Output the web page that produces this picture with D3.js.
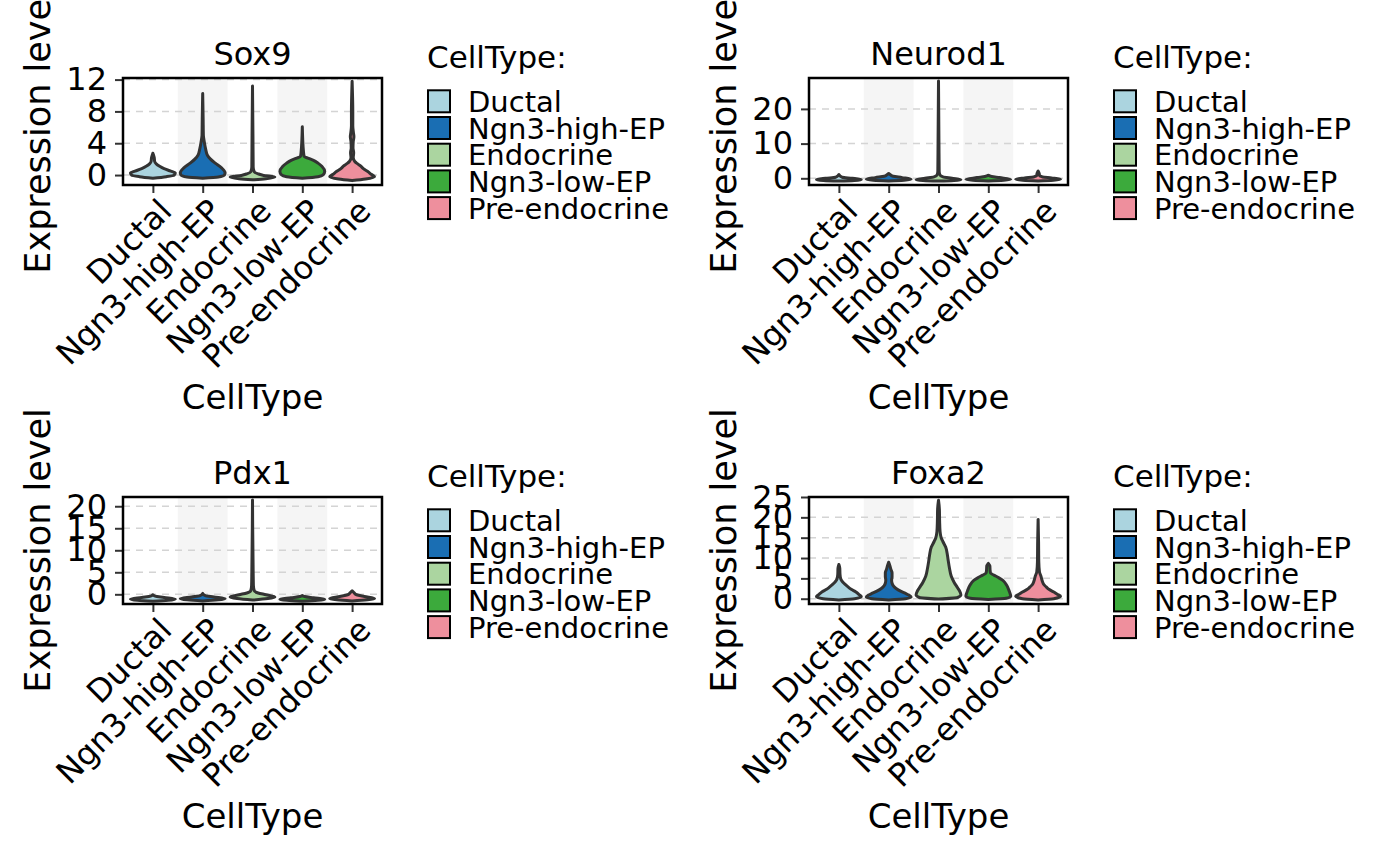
<!DOCTYPE html>
<html>
<head>
<meta charset="utf-8">
<script src="https://cdn.jsdelivr.net/npm/d3@7"></script>
<style>
  body { margin: 0; background: #fff; }
  svg { display: block; font-family: "DejaVu Sans", sans-serif; }
</style>
</head>
<body>
<svg id="chart" width="1400" height="866"></svg>
<script>
const genes = ['Sox9', 'Neurod1', 'Pdx1', 'Foxa2'];
const cellTypes = ['Ductal', 'Ngn3-high-EP', 'Endocrine', 'Ngn3-low-EP', 'Pre-endocrine'];
const cellColors = ['#abd4df', '#1a6eb3', '#abd5a0', '#3caa3c', '#ee8f9d'];

const yDomains = [[-1.25, 12.2], [-1.93, 28.9], [-2.2, 22.1], [-1.3, 25.0]];
const yTicks = [[0, 4, 8, 12], [0, 10, 20], [0, 5, 10, 15, 20], [0, 5, 10, 15, 20, 25]];

// violin outlines: [expression level, relative half width]
const sox9Violins = [
    [[-0.4, 0], [-0.2, 0.6], [0, 0.95], [0.25, 1.0], [0.5, 0.8], [0.8, 0.5], [1.1, 0.3], [1.4, 0.15], [1.7, 0.08], [2.2, 0.06], [2.75, 0]],
    [[-0.4, 0], [-0.25, 0.7], [0, 0.97], [0.3, 1.0], [0.9, 0.84], [1.5, 0.56], [2.0, 0.35], [2.5, 0.21], [3.3, 0.13], [4.2, 0.07], [5, 0.03], [7, 0.02], [10.25, 0]],
    [[-0.6, 0], [-0.45, 0.6], [-0.25, 1.0], [-0.05, 0.5], [0.15, 0.25], [0.4, 0.08], [1, 0.03], [5, 0.02], [11.2, 0]],
    [[-0.4, 0], [-0.2, 0.7], [0, 0.92], [0.45, 1.0], [1.1, 0.87], [1.5, 0.7], [1.85, 0.5], [2.1, 0.28], [2.35, 0.08], [3, 0.05], [6.08, 0]],
    [[-0.7, 0], [-0.5, 0.6], [-0.2, 1.0], [0.1, 0.85], [0.45, 0.7], [0.8, 0.5], [1.1, 0.4], [1.4, 0.25], [1.7, 0.12], [2.2, 0.05], [2.8, 0.07], [3.4, 0.04], [4.2, 0.05], [4.8, 0.08], [5.3, 0.06], [6.2, 0.03], [8, 0.03], [11.8, 0]]
];
const neurod1Violins = [
    [[-0.8, 0], [-0.4, 1.0], [0, 0.6], [0.3, 0.15], [0.7, 0.05], [1.1, 0]],
    [[-0.8, 0], [-0.3, 1.0], [0.2, 0.6], [0.6, 0.2], [1.0, 0.08], [1.4, 0]],
    [[-0.8, 0], [-0.4, 1.0], [0, 0.6], [0.4, 0.2], [1.0, 0.06], [2, 0.03], [10, 0.02], [28, 0]],
    [[-0.8, 0], [-0.3, 1.0], [0.2, 0.5], [0.5, 0.15], [0.9, 0]],
    [[-0.8, 0], [-0.3, 1.0], [0.1, 0.6], [0.4, 0.2], [0.8, 0.06], [1.4, 0.05], [2.1, 0]]
];
const pdx1Violins = [
    [[-1.6, 0], [-1.1, 1.0], [-0.7, 0.5], [-0.4, 0.1], [-0.1, 0]],
    [[-1.5, 0], [-1.0, 1.0], [-0.6, 0.5], [-0.3, 0.12], [0.2, 0]],
    [[-1.3, 0], [-0.6, 1.0], [-0.1, 0.6], [0.3, 0.25], [0.8, 0.08], [2, 0.04], [5, 0.03], [21.4, 0]],
    [[-1.6, 0], [-1.15, 1.0], [-0.8, 0.5], [-0.5, 0.1], [-0.3, 0]],
    [[-1.5, 0], [-0.95, 1.0], [-0.5, 0.55], [-0.1, 0.2], [0.4, 0.08], [0.8, 0]]
];
const foxa2Violins = [
    [[-0.3, 0], [0, 0.7], [0.5, 1.0], [1, 0.9], [1.65, 0.76], [2.3, 0.55], [2.9, 0.41], [3.5, 0.28], [4.1, 0.17], [4.9, 0.08], [6, 0.05], [7.5, 0.04], [8.4, 0]],
    [[-0.3, 0], [0, 0.75], [0.4, 1.0], [0.9, 0.9], [1.25, 0.77], [1.8, 0.55], [2.5, 0.33], [3.2, 0.2], [3.8, 0.15], [4.6, 0.13], [5.4, 0.15], [6.4, 0.15], [7.2, 0.1], [8, 0.06], [8.96, 0]],
    [[-0.1, 0], [0.3, 0.85], [0.9, 1.0], [1.8, 0.95], [2.7, 0.85], [4, 0.7], [5.5, 0.57], [7.5, 0.49], [9.5, 0.43], [11, 0.39], [12.7, 0.32], [14, 0.2], [15, 0.12], [16.5, 0.07], [19, 0.05], [22, 0.04], [24.2, 0]],
    [[-0.2, 0], [0.1, 0.8], [0.6, 1.0], [1.3, 0.97], [2.05, 0.92], [3.3, 0.82], [4.5, 0.65], [5.2, 0.45], [5.8, 0.25], [6.3, 0.1], [7, 0.08], [8, 0.07], [8.7, 0]],
    [[-0.3, 0], [0, 0.7], [0.6, 1.0], [1.1, 0.85], [1.65, 0.7], [2.3, 0.48], [2.9, 0.36], [3.5, 0.25], [4.1, 0.2], [4.8, 0.16], [5.5, 0.13], [6.6, 0.06], [9, 0.03], [14, 0.02], [19.5, 0]]
];
const violins = [sox9Violins, neurod1Violins, pdx1Violins, foxa2Violins];

// layout
const svg = d3.select('#chart');
const colLeft = [123, 809];
const rowTop = [78, 497];
const W = 259, H = 107;

svg.append('rect').attr('width', 1400).attr('height', 866).attr('fill', '#fff');

genes.forEach((gene, gi) => {
    const g = svg.append('g')
        .attr('transform', `translate(${colLeft[gi % 2]},${rowTop[Math.floor(gi / 2)]})`);

    const x = d3.scalePoint().domain(cellTypes).range([0, W]).padding(0.6);
    const step = x.step();
    const y = d3.scaleLinear().domain(yDomains[gi]).range([H, 0]);
    const halfW = step * 0.9 / 2;

    // alternating background stripes
    g.selectAll('rect.stripe')
        .data(cellTypes.filter((c, i) => i % 2 === 1))
        .enter()
        .append('rect')
        .attr('class', 'stripe')
        .attr('x', d => x(d) - step / 2)
        .attr('y', 0)
        .attr('width', step)
        .attr('height', H)
        .attr('fill', '#f5f5f5');

    // dashed grid
    g.selectAll('line.grid')
        .data(yTicks[gi])
        .enter()
        .append('line')
        .attr('class', 'grid')
        .attr('x1', 0).attr('x2', W)
        .attr('y1', d => y(d)).attr('y2', d => y(d))
        .attr('stroke', '#d4d4d4')
        .attr('stroke-width', 1.5)
        .attr('stroke-dasharray', '7,6');

    // violins
    violins[gi].forEach((outline, ci) => {
        const cx = x(cellTypes[ci]);
        const area = d3.area()
            .y(d => y(d[0]))
            .x0(d => cx - d[1] * halfW)
            .x1(d => cx + d[1] * halfW)
            .curve(d3.curveMonotoneY);
        g.append('path')
            .attr('d', area(outline))
            .attr('fill', cellColors[ci])
            .attr('stroke', '#333')
            .attr('stroke-width', 3)
            .attr('stroke-linejoin', 'round');
    });

    // y axis
    const yAxis = g.append('g')
        .call(d3.axisLeft(y).tickValues(yTicks[gi]).tickSize(8).tickPadding(8));
    yAxis.select('.domain').remove();
    yAxis.selectAll('line').attr('stroke', '#333').attr('stroke-width', 2);
    yAxis.selectAll('text')
        .attr('fill', '#000')
        .style('font-size', '32px')
        .style('font-family', 'DejaVu Sans');

    // x axis
    const xAxis = g.append('g')
        .attr('transform', `translate(0,${H})`)
        .call(d3.axisBottom(x).tickSize(8).tickPadding(0));
    xAxis.select('.domain').remove();
    xAxis.selectAll('line').attr('stroke', '#333').attr('stroke-width', 2);
    xAxis.selectAll('text')
        .attr('fill', '#000')
        .attr('text-anchor', 'end')
        .attr('dy', '0.71em')
        .attr('y', 0)
        .attr('transform', 'translate(4,12) rotate(-45)')
        .style('font-size', '32px')
        .style('font-family', 'DejaVu Sans');

    // panel frame
    g.append('rect')
        .attr('width', W).attr('height', H)
        .attr('fill', 'none')
        .attr('stroke', '#000')
        .attr('stroke-width', 2.5);

    // title
    g.append('text')
        .attr('x', W / 2).attr('y', -13)
        .attr('text-anchor', 'middle')
        .style('font-size', '32px')
        .text(gene);

    // axis titles
    g.append('text')
        .attr('transform', `translate(-73,${H / 2}) rotate(-90)`)
        .attr('text-anchor', 'middle')
        .style('font-size', '35px')
        .text('Expression level');

    g.append('text')
        .attr('x', W / 2).attr('y', H + 224)
        .attr('text-anchor', 'middle')
        .style('font-size', '34px')
        .text('CellType');

    // legend
    const lg = g.append('g').attr('transform', 'translate(304,0)');
    lg.append('text')
        .attr('x', 0).attr('y', -10)
        .style('font-size', '31px')
        .text('CellType:');
    const items = lg.selectAll('g.item')
        .data(cellTypes)
        .enter()
        .append('g')
        .attr('class', 'item')
        .attr('transform', (d, i) => `translate(0,${11.3 + i * 26.7})`);
    items.append('rect')
        .attr('x', 1).attr('y', 1)
        .attr('width', 22).attr('height', 22)
        .attr('fill', (d, i) => cellColors[i])
        .attr('stroke', '#000')
        .attr('stroke-width', 2);
    items.append('text')
        .attr('x', 41).attr('y', 22.5)
        .style('font-size', '29px')
        .text(d => d);
});
</script>
</body>
</html>
